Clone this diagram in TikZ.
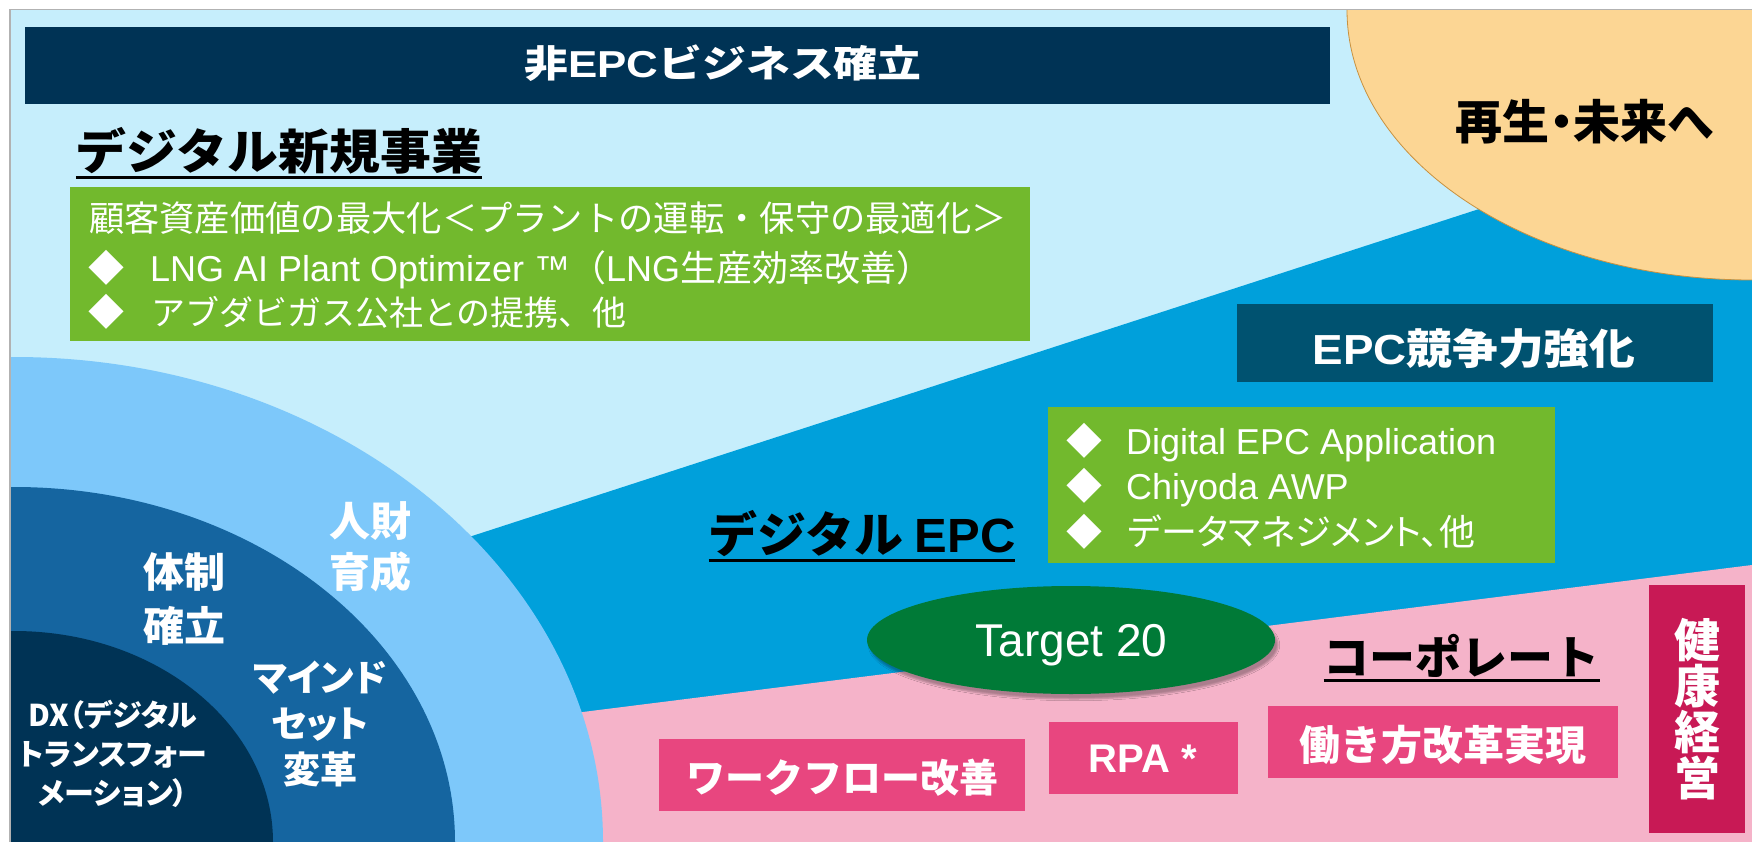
\documentclass[tikz,border=0pt]{standalone}
\usepackage{fontspec}
\usepackage{graphicx}
\usetikzlibrary{shapes.geometric,shadows.blur}
\newfontfamily\jp{Noto Sans CJK JP}
\newfontfamily\jpp{Noto Sans CJK JP}[CharacterWidth=AlternateProportional]
\newfontfamily\lat{Liberation Sans}
\newcommand\fsz[1]{\fontsize{#1}{#1}\selectfont}
\newcommand\hsc[2]{\scalebox{#1}[1]{#2}}
\definecolor{bglight}{HTML}{C6EEFC}
\definecolor{midblue}{HTML}{00A0DB}
\definecolor{pinkbg}{HTML}{F5B3C9}
\definecolor{peach}{HTML}{FCD694}
\definecolor{peachedge}{HTML}{C8913F}
\definecolor{ringA}{HTML}{7DC8FA}
\definecolor{ringB}{HTML}{1565A0}
\definecolor{ringC}{HTML}{003355}
\definecolor{navy}{HTML}{003355}
\definecolor{greenA}{HTML}{72B92D}
\definecolor{epcblue}{HTML}{005270}
\definecolor{egreen}{HTML}{007A37}
\definecolor{pinkbox}{HTML}{E8467F}
\definecolor{crimson}{HTML}{C81955}
\begin{document}
\begin{tikzpicture}[x=1pt,y=-1pt,
  txt/.style={inner sep=0pt, outer sep=0pt, anchor=base},
  wtxt/.style={txt, text=white},
  btxt/.style={txt, text=black},
  box/.style={inner sep=0pt, outer sep=0pt, draw=none},
  uline/.style={line width=3pt, black}]
\useasboundingbox (0,0) rectangle (1752,842);
\fill[white] (0,0) rectangle (1752,842);
\fill[bglight] (10,9.5) rectangle (1752,842);
\begin{scope}
\clip (10.5,10) rectangle (1752,842);
\fill[midblue] (400,559.4) -- (1752,120.4) -- (1752,842) -- (400,842) -- cycle;
\fill[pinkbg] (500,722.4) -- (1752,565) -- (1752,842) -- (500,842) -- cycle;
\filldraw[fill=peach, draw=peachedge, line width=0.8pt] (1752,10) ellipse [x radius=405, y radius=270];
\fill[ringA] (14,842) ellipse [x radius=589, y radius=485];
\fill[ringB] (14,842) ellipse [x radius=441, y radius=355];
\fill[ringC] (14,842) ellipse [x radius=259, y radius=211];
\end{scope}
\draw[gray!60, line width=1.5pt] (10,842) -- (10,9.5) -- (1752,9.5);

% title bar
\node[box, fill=navy, minimum width=1305pt, minimum height=77pt] (titlebar) at (677.5,65.5) {};
\node[wtxt, font=\jp\bfseries\fsz{37.5}] (title) at (723,77.8) {\hsc{1.17}{非{\lat EPC}ビジネス確立}};

% heading 1
\node[btxt, font=\jp\bfseries\fsz{48}] (h1) at (279,169.7) {\hsc{1.06}{デジタル新規事業}};
\draw[uline] ([yshift=-8.3pt]h1.base west) -- ([yshift=-8.3pt]h1.base east);

% green box 1
\node[box, fill=greenA, minimum width=960pt, minimum height=154pt] (g1) at (550,264) {};
\node[wtxt, anchor=base west, font=\jp\fsz{35.3}] (g1a) at (89,231.5) {顧客資産価値の最大化＜プラントの運転・保守の最適化＞};
\node[wtxt, anchor=base west, font=\jp\fsz{36}] (g1b) at (88,281) {◆\hspace{26pt}{\lat LNG AI Plant Optimizer ™}（{\lat LNG}生産効率改善）};
\node[wtxt, anchor=base west, font=\jp\fsz{36}] (g1c) at (88,325) {◆\hspace{27pt}{\fsz{34}アブダビガス公社との提携、他}};

% peach text
\node[btxt, font=\jpp\bfseries\fsz{47}] (mirai) at (1584.5,139.4) {再生・未来へ};

% EPC box
\node[box, fill=epcblue, minimum width=476pt, minimum height=78pt] (epc) at (1475,343) {};
\node[wtxt, font=\jp\bfseries\fsz{42}] (epct) at (1474,364.5) {\hsc{1.09}{{\lat EPC}競争力強化}};

% green box 2
\node[box, fill=greenA, minimum width=507pt, minimum height=156pt] (g2) at (1301.5,485) {};
\node[wtxt, anchor=base west, font=\jp\fsz{36}] (g2a) at (1066,454) {◆\hspace{24pt}{\lat Digital EPC Application}};
\node[wtxt, anchor=base west, font=\jp\fsz{36}] (g2b) at (1066,499) {◆\hspace{24pt}{\lat Chiyoda AWP}};
\node[wtxt, anchor=base west, font=\jp\fsz{36}] (g2c) at (1066,545) {◆\hspace{26pt}{\jpp データマネジメント、他}};

% heading 2
\node[btxt, font=\jp\bfseries\fsz{48}] (h2) at (862,552.7) {\hsc{1.02}{デジタル {\lat EPC}}};
\draw[uline] ([yshift=-8pt]h2.base west) -- ([yshift=-8pt]h2.base east);

% Target ellipse
\node[ellipse, fill=egreen, minimum width=408pt, minimum height=108pt, inner sep=0pt,
  blur shadow={shadow xshift=3pt, shadow yshift=-5pt, shadow opacity=30}] (tgt) at (1071,640) {};
\node[wtxt, font=\lat\fsz{46}] (tgtt) at (1071.5,656.5) {Target 20};

% corporate
\node[btxt, font=\jp\bfseries\fsz{46}] (corp) at (1461.5,674.5) {コーポレート};
\draw[uline] ([yshift=-6.2pt]corp.base west) -- ([yshift=-6.2pt]corp.base east);

% pink boxes
\node[box, fill=pinkbox, minimum width=366pt, minimum height=72pt] (wf) at (842,775) {};
\node[wtxt, font=\jp\bfseries\fsz{39}] (wft) at (842,792.3) {ワークフロー改善};
\node[box, fill=pinkbox, minimum width=189pt, minimum height=72pt] (rpa) at (1143.5,758) {};
\node[wtxt, font=\lat\bfseries\fsz{40}] (rpat) at (1143,772.5) {RPA *};
\node[box, fill=pinkbox, minimum width=350pt, minimum height=72pt] (hk) at (1443,742) {};
\node[wtxt, font=\jp\bfseries\fsz{41}] (hkt) at (1443,760.7) {働き方改革実現};
\node[box, fill=crimson, minimum width=96pt, minimum height=248pt] (kk) at (1697,709) {};
\node[wtxt, anchor=center, align=center, font=\jp\bfseries\fsz{46}] (kkt) at (1697,709) {健\\康\\経\\営};

% ring texts
\node[wtxt, anchor=center, align=center, font=\jp\bfseries\fontsize{41}{51.5}\selectfont] (jz) at (370.5,547) {人財\\育成};
\node[wtxt, anchor=center, align=center, font=\jp\bfseries\fontsize{41}{54}\selectfont] (tai) at (184,599) {体制\\確立};
\node[wtxt, anchor=center, align=center, font=\jpp\bfseries\fontsize{37}{46}\selectfont] (mind) at (320,724) {マインド\\セット\\変革};
\node[wtxt, anchor=center, align=center, font=\jpp\bfseries\fontsize{30}{39}\selectfont] (dx) at (113,754) {DX（デジタル\\トランスフォー\\メーション）};
\end{tikzpicture}
\end{document}
